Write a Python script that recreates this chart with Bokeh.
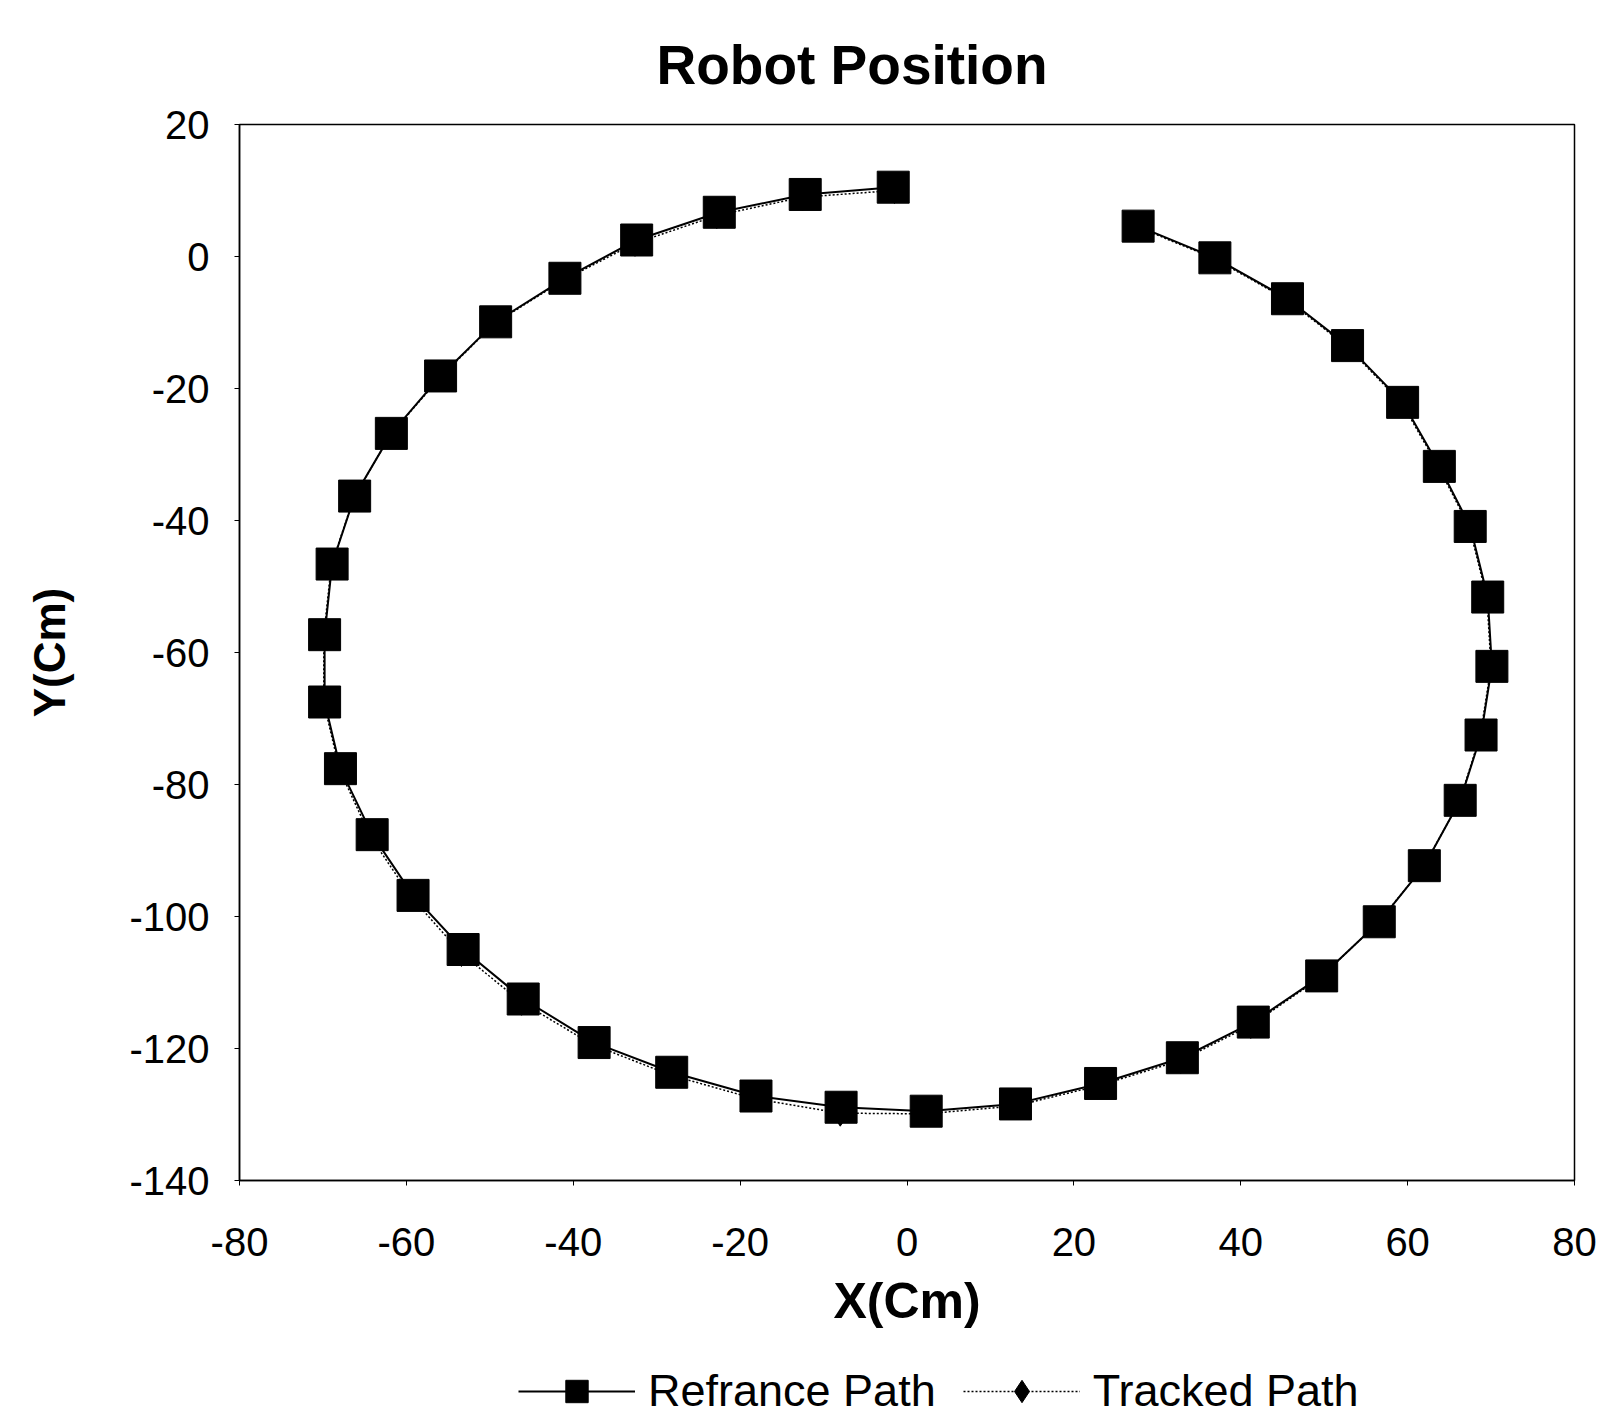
from bokeh.plotting import figure
from bokeh.layouts import column
from bokeh.models import FixedTicker, Legend, LegendItem, PrintfTickFormatter, Range1d
from bokeh.embed import file_html
from bokeh.resources import INLINE

# Reference path (cm)
x_ref = [-1.65, -12.2, -22.5, -32.4, -41.0, -49.3, -55.9, -61.8, -66.2, -68.9,
         -69.8, -69.8, -67.9, -64.1, -59.2, -53.2, -46.0, -37.5, -28.2, -18.1,
         -7.9, 2.3, 13.0, 23.2, 33.0, 41.5, 49.7, 56.6, 62.0, 66.3,
         68.8, 70.1, 69.6, 67.5, 63.8, 59.4, 52.8, 45.6, 36.9, 27.7]
y_ref = [10.5, 9.4, 6.7, 2.5, -3.3, -9.9, -18.1, -26.8, -36.3, -46.6,
         -57.3, -67.5, -77.6, -87.6, -96.8, -105.0, -112.5, -119.1, -123.6, -127.2,
         -128.9, -129.5, -128.4, -125.3, -121.4, -116.0, -109.0, -100.8, -92.3, -82.4,
         -72.5, -62.1, -51.6, -40.9, -31.8, -22.1, -13.5, -6.4, -0.2, 4.6]

# Tracked path (cm)
x_trk = [-1.5, -12.5, -22.8, -32.6, -41.2, -49.5, -56.0, -61.9, -66.3, -69.0,
         -69.9, -69.9, -68.0, -64.3, -59.4, -53.4, -46.2, -37.7, -28.4, -18.3,
         -8.0, 2.2, 13.0, 23.1, 32.8, 41.2, 49.5, 56.4, 61.9, 66.2,
         68.7, 70.0, 69.5, 67.4, 63.7, 59.3, 52.7, 45.5, 36.8, 27.6]
y_trk = [10.0, 9.0, 6.2, 2.0, -3.6, -10.2, -18.4, -27.0, -36.6, -46.8,
         -57.4, -67.6, -77.8, -87.9, -97.1, -105.6, -113.0, -119.4, -124.0, -127.6,
         -129.8, -129.9, -128.7, -125.6, -121.8, -116.5, -109.3, -101.0, -92.5, -82.6,
         -72.6, -62.2, -51.7, -41.0, -31.9, -22.2, -13.6, -6.5, -0.3, 4.5]

x_ticks = [-80, -60, -40, -20, 0, 20, 40, 60, 80]
y_ticks = [-140, -120, -100, -80, -60, -40, -20, 0, 20]
series_names = ["Refrance Path", "Tracked Path"]

FONT = "Liberation Sans"

p = figure(frame_width=1335, frame_height=1056,
           x_range=(-80, 80), y_range=(-140, 20),
           output_backend="svg", toolbar_location=None,
           min_border_left=239, min_border_right=24,
           min_border_top=124, min_border_bottom=170)

p.title.text = "Robot Position"
p.title.align = "left"
p.title.vertical_align = "top"
p.title.text_font = FONT
p.title.text_font_size = "55px"
p.title.text_font_style = "bold"
p.title.text_color = "black"
p.title.offset = 417
p.title.standoff = 54

p.xgrid.visible = False
p.ygrid.visible = False
p.outline_line_color = "black"
p.outline_line_width = 1.5

for ax in (p.xaxis[0], p.yaxis[0]):
    ax.axis_line_color = "black"
    ax.axis_line_width = 1.5
    ax.major_tick_in = 0
    ax.major_tick_out = 5
    ax.major_tick_line_color = "black"
    ax.minor_tick_line_color = None
    ax.major_label_text_font = FONT
    ax.major_label_text_font_size = "40px"
    ax.major_label_text_color = "black"
    ax.axis_label_text_font = FONT
    ax.axis_label_text_font_style = "bold"
    ax.axis_label_text_color = "black"
    ax.formatter = PrintfTickFormatter(format="%d")

p.xaxis.ticker = FixedTicker(ticks=x_ticks)
p.yaxis.ticker = FixedTicker(ticks=y_ticks)
p.xaxis.axis_label = "X(Cm)"
p.yaxis.axis_label = "Y(Cm)"
p.xaxis.axis_label_text_font_size = "50px"
p.yaxis.axis_label_text_font_size = "44px"
p.xaxis.major_label_standoff = 42
p.xaxis.axis_label_standoff = 14
p.yaxis.major_label_standoff = 25
p.yaxis.axis_label_standoff = 52

p.line(x_ref, y_ref, line_color="black", line_width=2)
p.scatter(x_ref, y_ref, marker="square", size=32,
          fill_color="black", line_color="black")
p.line(x_trk, y_trk, line_color="black", line_width=1.5, line_dash="2 2")
p.scatter(x_trk, y_trk, marker="diamond", size=26,
          fill_color="black", line_color="black")

# Legend strip below the chart (glyphs here only feed the legend; they lie outside the range)
lg = figure(width=1598, height=69, output_backend="svg", toolbar_location=None,
            x_axis_type=None, y_axis_type=None,
            x_range=Range1d(0, 1), y_range=Range1d(0, 1),
            min_border_left=0, min_border_right=0, min_border_top=0, min_border_bottom=0)
lg.xgrid.visible = False
lg.ygrid.visible = False
lg.outline_line_color = None
off = [5, 6]
lr_line = lg.line(off, off, line_color="black", line_width=2)
lr_mark = lg.scatter(off, off, marker="square", fill_color="black", line_color="black")
lt_line = lg.line(off, off, line_color="black", line_width=1.5, line_dash="2 2")
lt_mark = lg.scatter(off, off, marker="diamond", fill_color="black", line_color="black")

legend = Legend(items=[
    LegendItem(label=series_names[0], renderers=[lr_line, lr_mark]),
    LegendItem(label=series_names[1], renderers=[lt_line, lt_mark]),
], location=(279, 0), orientation="horizontal")
legend.border_line_color = None
legend.background_fill_alpha = 0
legend.padding = 0
legend.margin = 0
legend.spacing = 27
legend.glyph_width = 117
legend.glyph_height = 56
legend.label_standoff = 13
legend.label_text_font = FONT
legend.label_text_font_size = "45px"
legend.label_text_color = "black"
legend.label_text_baseline = "middle"
lg.add_layout(legend)

layout = column(p, lg, spacing=0)
open("out.html", "w").write(file_html(layout, INLINE))
